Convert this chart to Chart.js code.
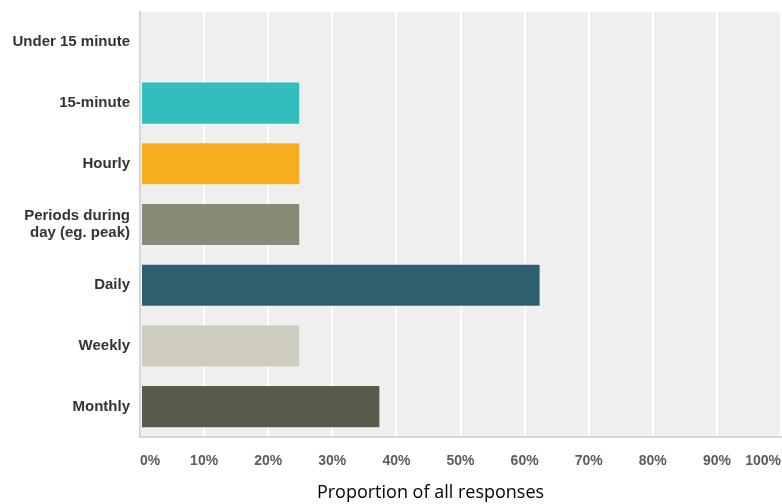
<!DOCTYPE html>
<html>
<head>
<meta charset="utf-8">
<script src="https://cdn.jsdelivr.net/npm/chart.js@4/dist/chart.umd.min.js"></script>
<style>
  html, body { margin: 0; padding: 0; background: #fff; }
  #wrap { width: 782px; height: 504px; position: relative; }
</style>
</head>
<body>
<div id="wrap"><canvas id="chart"></canvas></div>
<script>
'use strict';

// Response frequency categories and their share of responses (%)
const categories = ['Under 15 minute', '15-minute', 'Hourly', ['Periods during', 'day (eg. peak)'], 'Daily', 'Weekly', 'Monthly'];
const shares     = [0, 25, 25, 25, 62.5, 25, 37.5];
const barColors  = ['#33bdbd', '#33bdbd', '#f5ae1e', '#888a78', '#2e5f6e', '#cdccbf', '#5a5a4b'];
const tickValues = [0, 10, 20, 30, 40, 50, 60, 70, 80, 90, 100];
const axisTitle  = 'Proportion of all responses';

// grey panel behind the bars + axis caption under the ticks
const panel = {
  id: 'panel',
  beforeDraw(chart) {
    const { ctx, chartArea: a } = chart;
    ctx.save();
    ctx.fillStyle = '#efefef';
    ctx.fillRect(a.left, a.top, a.right - a.left, a.bottom - a.top);
    ctx.restore();
  },
  afterDraw(chart) {
    const { ctx, chartArea: a } = chart;
    ctx.save();
    ctx.font = '18px "Open Sans", "Noto Sans", sans-serif';
    ctx.fillStyle = '#000';
    ctx.textAlign = 'center';
    ctx.textBaseline = 'middle';
    ctx.fillText(axisTitle, (a.left + a.right) / 2 - 30, 493);
    ctx.restore();
  }
};

new Chart(document.getElementById('chart'), {
  type: 'bar',
  data: {
    labels: categories,
    datasets: [{
      data: shares,
      backgroundColor: barColors,
      borderColor: 'rgba(255,255,255,0.35)',
      borderWidth: 1,
      borderSkipped: false,
      categoryPercentage: 1,
      barPercentage: 0.71,
    }]
  },
  options: {
    indexAxis: 'y',
    responsive: true, maintainAspectRatio: false, animation: false,
    layout: { padding: { top: 12, right: 1, left: 0, bottom: 0 } },
    plugins: { legend: { display: false }, tooltip: { enabled: false } },
    scales: {
      x: {
        min: 0, max: 100,
        afterBuildTicks: s => { s.ticks = tickValues.map(v => ({ value: v })); },
        afterFit: s => { s.height = 67; s.paddingLeft = 0; s.paddingRight = 0; },
        grid: { color: '#ffffff', lineWidth: 2, drawTicks: false },
        border: { color: '#d6d6d6', width: 2 },
        ticks: {
          align: 'inner', padding: 16, color: '#5a5a66',
          font: { family: 'Arial, "Liberation Sans", sans-serif', size: 14, weight: 'bold' },
          callback: v => v + '%'
        }
      },
      y: {
        afterFit: s => { s.width = 140; s.paddingTop = 0; s.paddingBottom = 0; },
        grid: { display: false, drawTicks: false },
        border: { color: '#d6d6d6', width: 2 },
        ticks: {
          padding: 10, color: '#333333',
          font: { family: 'Arial, "Liberation Sans", sans-serif', size: 15, weight: 'bold', lineHeight: 1.15 }
        }
      }
    }
  },
  plugins: [panel]
});
</script>
</body>
</html>
